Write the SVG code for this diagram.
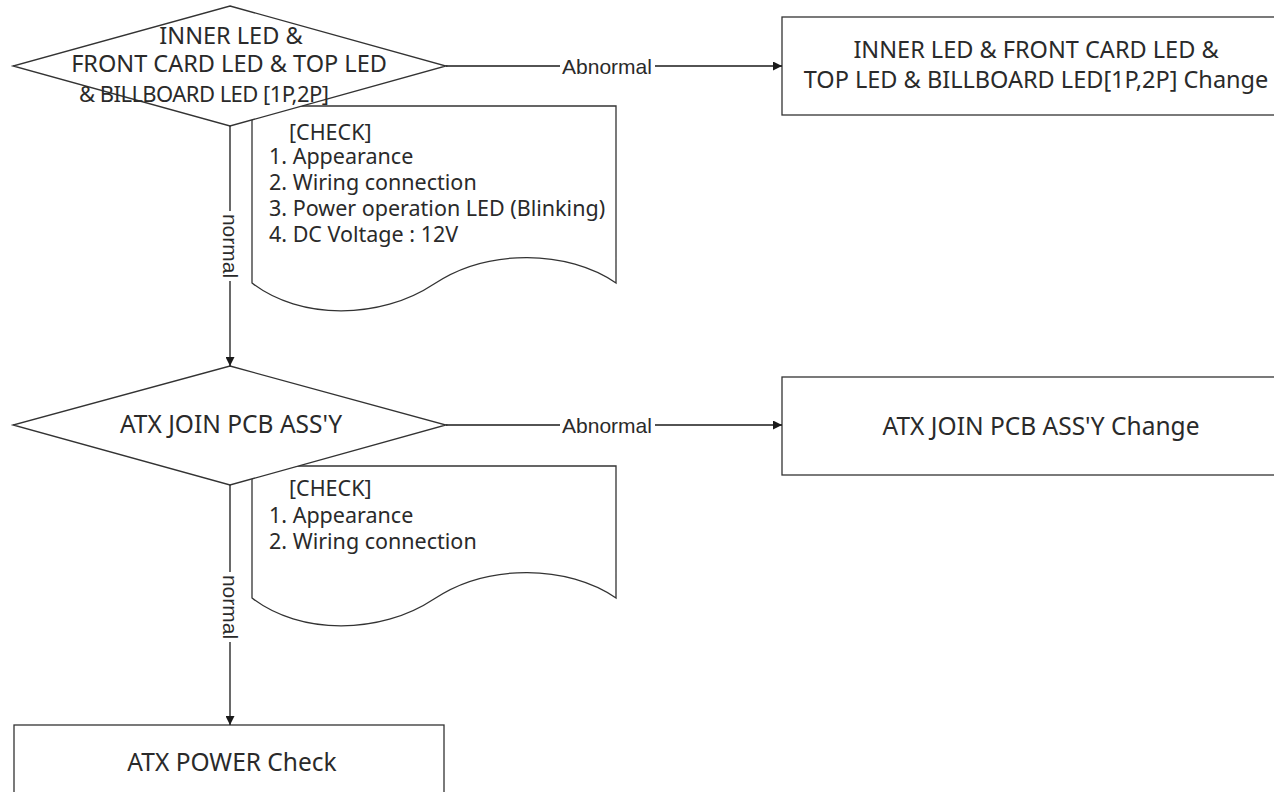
<svg xmlns="http://www.w3.org/2000/svg" width="1274" height="792" viewBox="0 0 1274 792">
  <defs>
    <marker id="arr" viewBox="0 0 10 10" refX="10" refY="5" markerWidth="9" markerHeight="9" markerUnits="userSpaceOnUse" orient="auto">
      <path d="M0,0 L10,5 L0,10 Z" fill="#1a1a1a"/>
    </marker>
    <style>
      .shape { fill: #ffffff; stroke: #333333; stroke-width: 1.3; }
      .t { font-family: "Noto Sans", "Open Sans", "Liberation Sans", sans-serif; font-size: 23.5px; fill: #2a2a2a; text-anchor: middle; }
      .t1 { font-family: "Noto Sans", "Open Sans", "Liberation Sans", sans-serif; font-size: 24.5px; fill: #2a2a2a; text-anchor: middle; }
      .d { font-family: "Noto Sans", "Open Sans", "Liberation Sans", sans-serif; font-size: 21.5px; fill: #2a2a2a; }
      .lbl { font-family: "Liberation Sans", Arial, sans-serif; font-size: 21px; fill: #2a2a2a; text-anchor: middle; }
      .edge { fill: none; stroke: #1a1a1a; stroke-width: 1.3; }
      .bg { fill: #ffffff; stroke: none; }
    </style>
  </defs>
  <rect width="1274" height="792" fill="#ffffff"/>

  <g id="note1">
    <path class="shape" d="M252,106 H616 V283 C568,250 488,248 434,284 C380,320 300,320 252,283 Z"/>
    <text class="d" x="289" y="140">[CHECK]</text>
    <text class="d" x="269" y="164">1. Appearance</text>
    <text class="d" x="269" y="190">2. Wiring connection</text>
    <text class="d" x="269" y="216">3. Power operation LED (Blinking)</text>
    <text class="d" x="269" y="242">4. DC Voltage : 12V</text>
  </g>

  <g id="note2">
    <path class="shape" d="M252,466 H616 V598 C568,565 488,563 434,599 C380,635 300,635 252,598 Z"/>
    <text class="d" x="289" y="496">[CHECK]</text>
    <text class="d" x="269" y="523">1. Appearance</text>
    <text class="d" x="269" y="549">2. Wiring connection</text>
  </g>

  <g id="decision1">
    <polygon class="shape" points="230,6 446,66 230,126 13,66"/>
    <text class="t" x="231" y="44">INNER LED &amp;</text>
    <text class="t" x="229" y="72">FRONT CARD LED &amp; TOP LED</text>
    <text class="t" x="204" y="102" style="font-size:22px" textLength="250" lengthAdjust="spacing">&amp; BILLBOARD LED [1P,2P]</text>
  </g>

  <g id="decision2">
    <polygon class="shape" points="230,366 446,425 230,485 13,425"/>
    <text class="t1" x="231" y="433">ATX JOIN PCB ASS'Y</text>
  </g>

  <g id="change1">
    <rect class="shape" x="782" y="17" width="508" height="98"/>
    <text class="t" x="1036" y="58">INNER LED &amp; FRONT CARD LED &amp;</text>
    <text class="t" x="1036" y="88">TOP LED &amp; BILLBOARD LED[1P,2P] Change</text>
  </g>

  <g id="change2">
    <rect class="shape" x="782" y="377" width="508" height="98"/>
    <text class="t1" x="1041" y="435">ATX JOIN PCB ASS'Y Change</text>
  </g>

  <g id="atxpower">
    <rect class="shape" x="14" y="725" width="430" height="98"/>
    <text class="t1" x="232" y="771">ATX POWER Check</text>
  </g>

  <g id="connectors">
    <line class="edge" x1="446" y1="66" x2="782" y2="66" marker-end="url(#arr)"/>
    <rect class="bg" x="560" y="54" width="95" height="24"/>
    <text class="lbl" x="607" y="74">Abnormal</text>

    <line class="edge" x1="446" y1="425" x2="782" y2="425" marker-end="url(#arr)"/>
    <rect class="bg" x="560" y="413" width="95" height="24"/>
    <text class="lbl" x="607" y="433">Abnormal</text>

    <line class="edge" x1="230" y1="126" x2="230" y2="366" marker-end="url(#arr)"/>
    <rect class="bg" x="218" y="211" width="24" height="70"/>
    <text class="lbl" transform="translate(230,246) rotate(90)" x="0" y="7.5">normal</text>

    <line class="edge" x1="230" y1="485" x2="230" y2="725" marker-end="url(#arr)"/>
    <rect class="bg" x="218" y="572" width="24" height="70"/>
    <text class="lbl" transform="translate(230,607) rotate(90)" x="0" y="7.5">normal</text>
  </g>
</svg>
